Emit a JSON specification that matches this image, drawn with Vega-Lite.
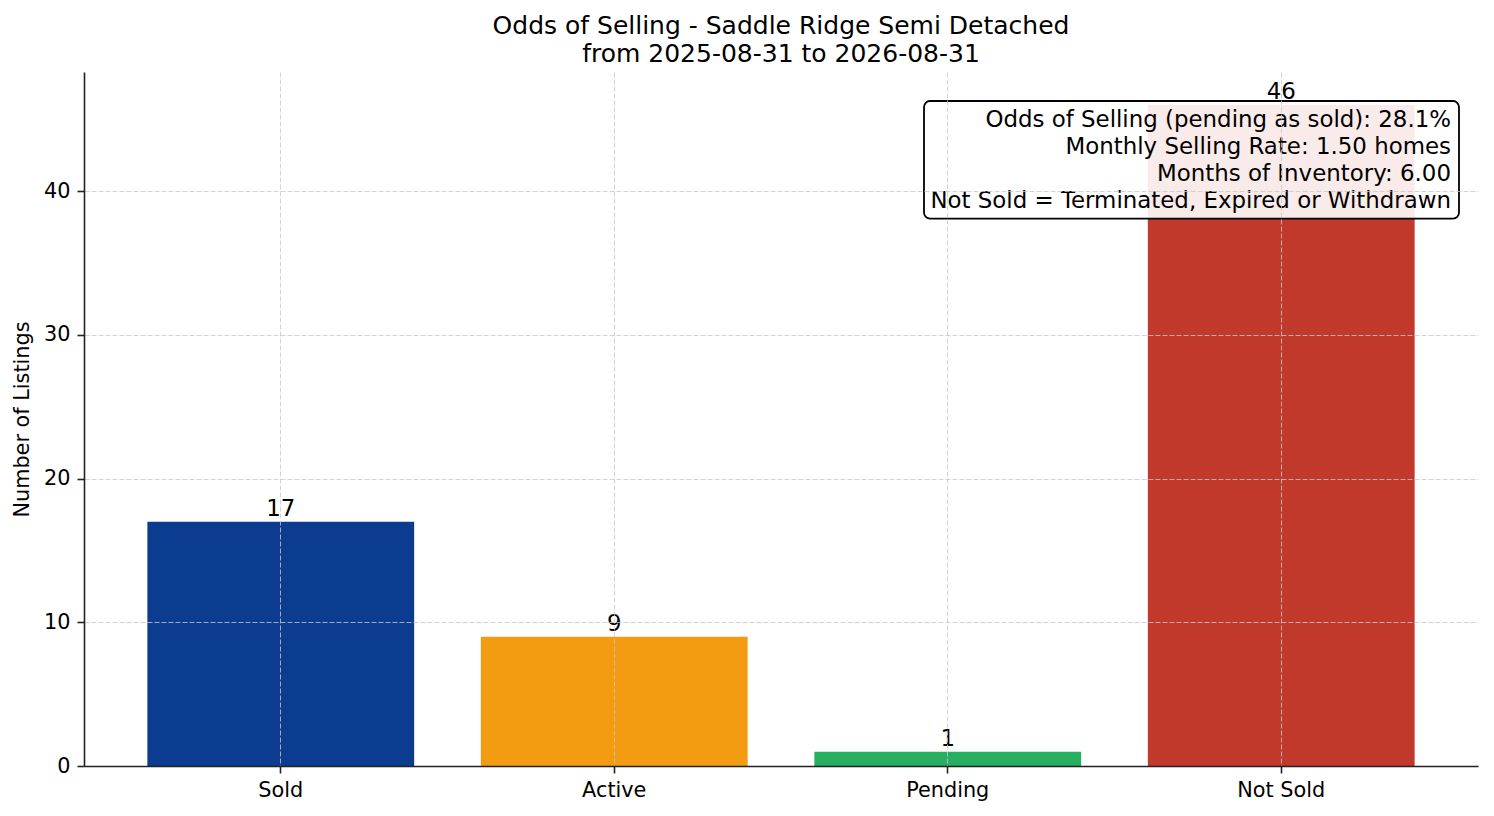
{
  "$schema": "https://vega.github.io/schema/vega-lite/v6.json",
  "autosize": "none",
  "width": 1394,
  "height": 694,
  "padding": {"left": 84, "top": 72, "right": 16, "bottom": 50},
  "background": "white",
  "config": {
    "font": "DejaVu Sans",
    "view": {"stroke": null},
    "axis": {
      "domainColor": "#222222",
      "domainWidth": 1.6,
      "tickColor": "#222222",
      "tickWidth": 1.6,
      "tickSize": 7,
      "labelColor": "#000000",
      "labelFontSize": 20.8,
      "labelFont": "DejaVu Sans",
      "titleFont": "DejaVu Sans",
      "titleFontWeight": "normal",
      "titleColor": "#000000",
      "titleFontSize": 20.8,
      "gridColor": "#c8c8c8",
      "gridOpacity": 0.8,
      "gridDash": [5, 2],
      "gridWidth": 1
    }
  },
  "title": {
    "text": ["Odds of Selling - Saddle Ridge Semi Detached", "from 2025-08-31 to 2026-08-31"],
    "font": "DejaVu Sans",
    "fontSize": 25,
    "fontWeight": "normal",
    "color": "#000000",
    "lineHeight": 28,
    "anchor": "middle",
    "offset": 5
  },
  "data": {
    "values": [
      {"status": "Sold", "count": 17},
      {"status": "Active", "count": 9},
      {"status": "Pending", "count": 1},
      {"status": "Not Sold", "count": 46}
    ]
  },
  "encoding": {
    "x": {
      "field": "status",
      "type": "nominal",
      "sort": ["Sold", "Active", "Pending", "Not Sold"],
      "scale": {"paddingInner": 0.2, "paddingOuter": 0.19},
      "axis": {"title": null, "labelAngle": 0, "bandPosition": 0.5, "grid": true, "zindex": 1, "labelPadding": 7}
    },
    "y": {
      "field": "count",
      "type": "quantitative",
      "scale": {"domain": [0, 48.3], "nice": false, "zero": true},
      "axis": {"title": "Number of Listings", "values": [0, 10, 20, 30, 40], "grid": true, "zindex": 1, "titlePadding": 11, "labelPadding": 7}
    }
  },
  "layer": [
    {
      "mark": {"type": "bar"},
      "encoding": {
        "color": {
          "field": "status",
          "type": "nominal",
          "scale": {
            "domain": ["Sold", "Active", "Pending", "Not Sold"],
            "range": ["#0b3c8f", "#f39c12", "#27ae60", "#c0392b"]
          },
          "legend": null
        }
      }
    },
    {
      "data": {"values": [{"top": 46.28, "bottom": 38.1}]},
      "mark": {
        "type": "rect",
        "fill": "white",
        "fillOpacity": 0.9,
        "stroke": "#000000",
        "strokeWidth": 1.8,
        "cornerRadius": 6,
        "x": {"expr": "width - 554"},
        "x2": {"expr": "width - 19"}
      },
      "encoding": {
        "x": null,
        "y": {"field": "top", "type": "quantitative"},
        "y2": {"field": "bottom"}
      }
    },
    {
      "data": {"values": [{"ypos": 44.93, "lines": ["Odds of Selling (pending as sold): 28.1%", "Monthly Selling Rate: 1.50 homes", "Months of Inventory: 6.00", "Not Sold = Terminated, Expired or Withdrawn"]}]},
      "mark": {
        "type": "text",
        "align": "right",
        "baseline": "middle",
        "fontSize": 22.9,
        "lineHeight": 26.7,
        "color": "#000000",
        "x": {"expr": "width - 27"}
      },
      "encoding": {
        "x": null,
        "y": {"field": "ypos", "type": "quantitative"},
        "text": {"field": "lines"}
      }
    },
    {
      "mark": {"type": "text", "baseline": "alphabetic", "dy": -6, "fontSize": 22.9, "color": "#000000"},
      "encoding": {"text": {"field": "count", "type": "quantitative"}}
    }
  ]
}
